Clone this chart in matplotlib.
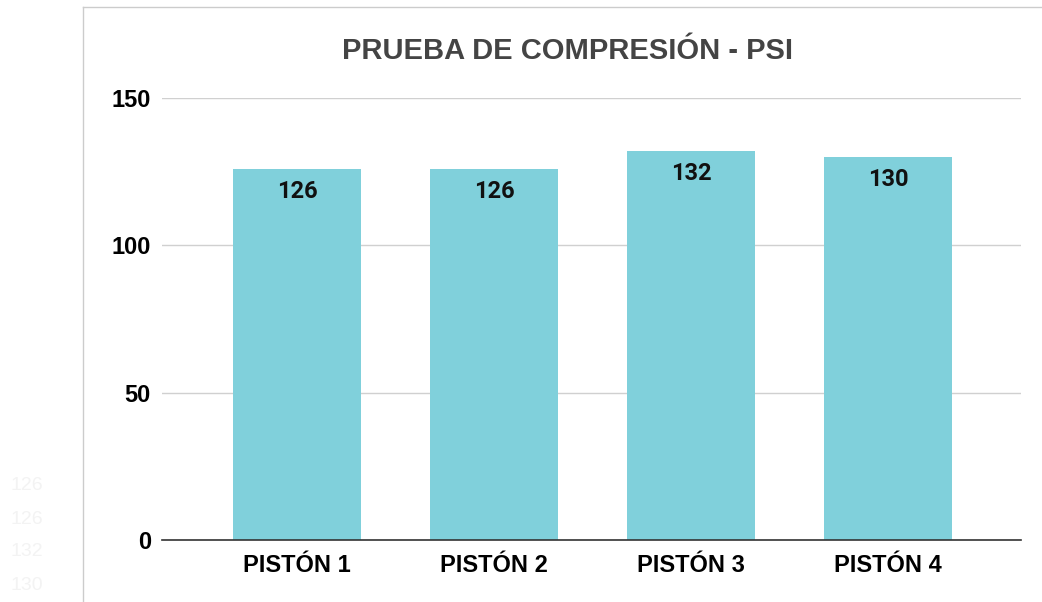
import numpy as np
import matplotlib.pyplot as plt
from matplotlib.lines import Line2D

categories = ['PISTÓN 1', 'PISTÓN 2', 'PISTÓN 3', 'PISTÓN 4']
psi = [126, 126, 132, 130]
yticks = [0, 50, 100, 150]

plt.rcParams['font.family'] = ['Liberation Sans', 'DejaVu Sans']

fig = plt.figure(figsize=(10.42, 6.02), dpi=100)
W, H = 1042, 602

# axes placed by pixel
x0, x1, ytop, ybot = 162, 1021, 98, 540
ax = fig.add_axes([x0 / W, 1 - ybot / H, (x1 - x0) / W, (ybot - ytop) / H])

x = np.arange(len(categories))
bars = ax.bar(x, psi, width=0.65, color='#80d0db', zorder=3)
for xi, v in zip(x, psi):
    ax.text(xi, v - 7.6, str(v), ha='center', va='center', fontsize=17,
            fontweight='bold', family=['Roboto', 'DejaVu Sans'], color='#111111', zorder=4)

ax.set_xlim(-0.685, 3.675)
ax.set_ylim(0, 150)
ax.set_yticks(yticks)
ax.set_xticks(x)
ax.set_xticklabels(categories, fontsize=17, fontweight='bold')
ax.set_yticklabels([str(t) for t in yticks], fontsize=17, fontweight='bold')
ax.tick_params(axis='x', length=0, pad=10)
ax.tick_params(axis='y', length=0, pad=8)
ax.grid(axis='y', color='#d0d0d0', linewidth=1, zorder=0)
for s in ['top', 'right', 'left']:
    ax.spines[s].set_visible(False)
ax.spines['bottom'].set_color('#333333')
ax.spines['bottom'].set_linewidth(1.2)
ax.spines['bottom'].set_zorder(5)

fig.text(568 / W, 1 - 51 / H, 'PRUEBA DE COMPRESIÓN - PSI', ha='center', va='center',
         fontsize=21, fontweight='bold', color='#444444')

# chart frame
fig.add_artist(Line2D([83 / W, 83 / W], [0, 1 - 7 / H], color='#cccccc', linewidth=1))
fig.add_artist(Line2D([83 / W, 1], [1 - 7 / H, 1 - 7 / H], color='#cccccc', linewidth=1))

# faint leftover values on the left
for i, v in enumerate(psi):
    fig.text(10 / W, 1 - (486 + 33 * i) / H, str(v), ha='left', va='center',
             fontsize=14, color='#f3f3f3')

fig.savefig('out.png', dpi=100)
